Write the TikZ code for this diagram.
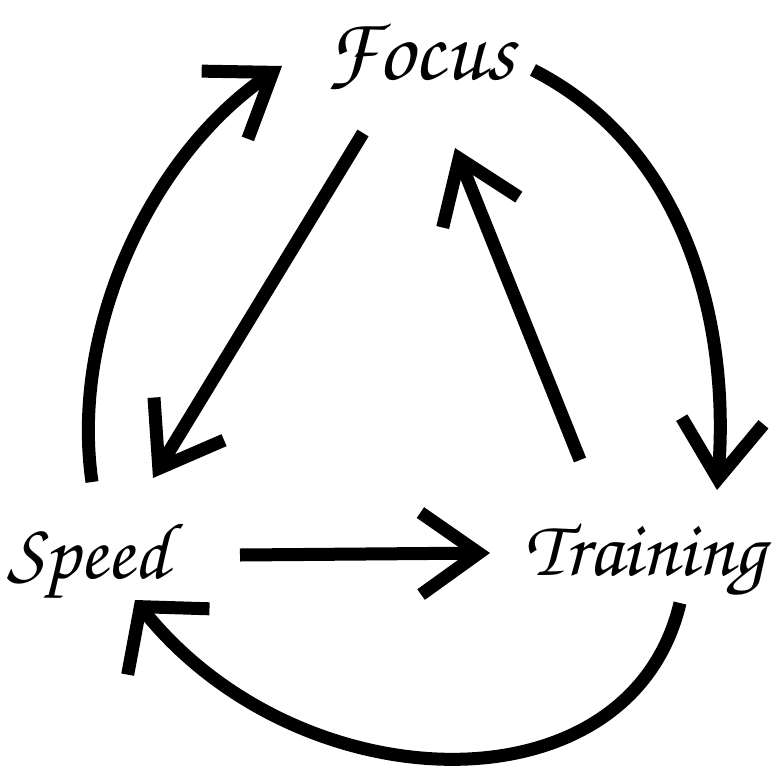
\documentclass[tikz,border=0pt]{standalone}
\usepackage{tikz}
\usetikzlibrary{arrows.meta,calc}
\newcommand{\hand}{\usefont{OT1}{pzc}{mb}{it}\fontsize{80}{90}\selectfont}

\begin{document}
\begin{tikzpicture}[x=1pt, y=-1pt, every node/.style={font=\hand, inner sep=0pt, anchor=base}, arr/.style={-{Straight Barb[length=58pt,width=82pt,sharp]}, line width=13pt}, wide/.style={-{Straight Barb[length=45pt,width=105pt,sharp]}, line width=13pt}]
\useasboundingbox (0,0) rectangle (776,784);
% labels
\node (focus) at (420,80) {\fontsize{90}{100}\selectfont Focus};
\node (speed) at (88,578) {Speed};
\node (train) at (645,575) {Training};
% arrow ends
\coordinate (sp-up) at (92,482);
\coordinate (fo-in) at (282,66);
\coordinate (fo-out) at (533,70);
\coordinate (tr-in) at (717,490);
\coordinate (tr-down) at (680,603);
\coordinate (sp-in) at (135,600);
\coordinate (fo-low) at (363,133);
\coordinate (sp-top) at (153,478);
\coordinate (tr-top) at (580,460);
\coordinate (fo-tip) at (455,148);
\coordinate (sp-right) at (240,555);
\coordinate (tr-left) at (490,553);
% outer cycle
\draw[arr] (sp-up) .. controls (70,330) and (150,156) .. (fo-in);
\draw[arr] (fo-out) .. controls (690,150) and (730,330) .. (tr-in);
\draw[wide] (tr-down) .. controls (630,815) and (300,805) .. (sp-in);
% inner triangle
\draw[arr] (fo-low) -- (sp-top);
\draw[arr] (tr-top) -- (fo-tip);
\draw[arr] (sp-right) -- (tr-left);
\end{tikzpicture}
\end{document}
